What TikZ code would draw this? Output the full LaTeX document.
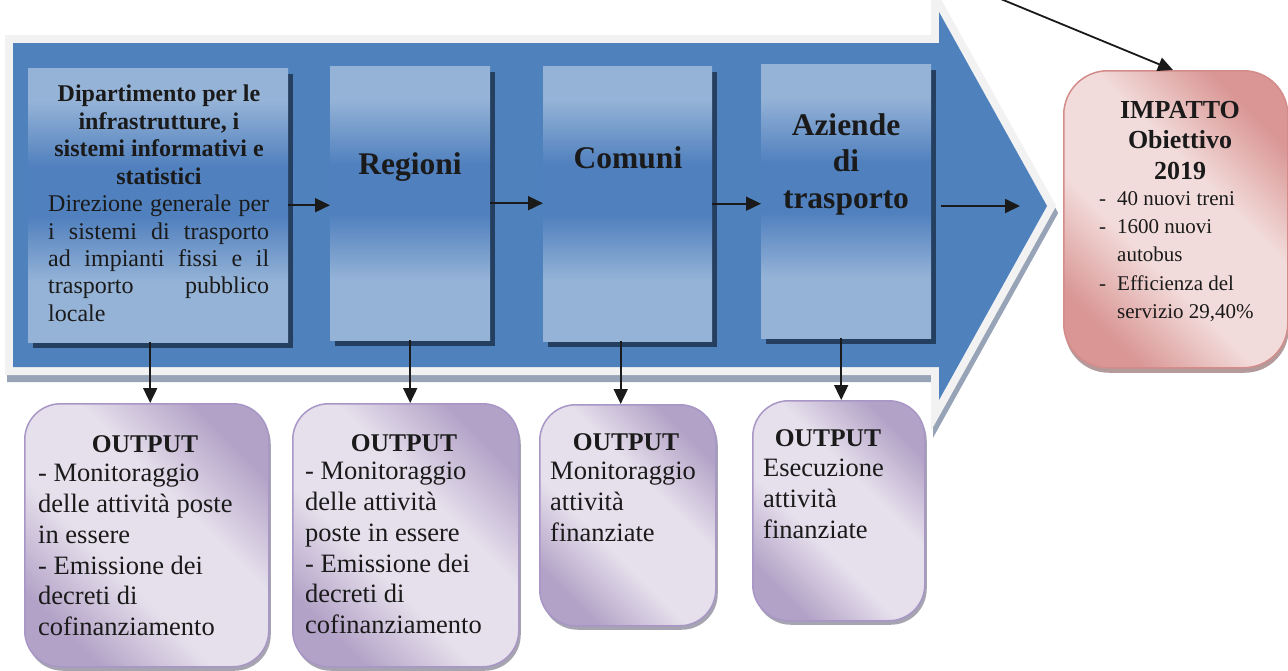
\documentclass[tikz,border=0pt]{standalone}
\usepackage{fontspec}
\setmainfont{Liberation Serif}
\usetikzlibrary{arrows.meta,calc,shadows}

\definecolor{flowblue}{HTML}{4F81BD}
\definecolor{framegrey}{HTML}{F2F2F2}
\definecolor{frameshade}{HTML}{97A3B6}
\definecolor{stepL}{HTML}{95B3D7}
\definecolor{stepM}{HTML}{5080BE}
\definecolor{stepshade}{HTML}{243F60}
\definecolor{lilacD}{HTML}{B3A2C7}
\definecolor{lilacL}{HTML}{E6E0EC}
\definecolor{lilacrim}{HTML}{A897C6}
\definecolor{lilacshade}{HTML}{A6A4B0}
\definecolor{roseD}{HTML}{D99694}
\definecolor{roseL}{HTML}{F2DCDB}
\definecolor{roserim}{HTML}{D38C8A}
\definecolor{roseshade}{HTML}{B39B9B}
\definecolor{ink}{HTML}{1A1A1A}

% light - dark band - light, top to bottom
\pgfdeclareverticalshading{stepband}{100bp}{color(0bp)=(stepL); color(25bp)=(stepL); color(36bp)=(stepL); color(48bp)=(stepM); color(57bp)=(stepM); color(69bp)=(stepL); color(75bp)=(stepL); color(100bp)=(stepL)}
% dark corners, light diagonal band
\pgfdeclareverticalshading{lilacband}{100bp}{color(0bp)=(lilacD); color(25bp)=(lilacD); color(41bp)=(lilacL); color(59bp)=(lilacL); color(75bp)=(lilacD); color(100bp)=(lilacD)}
\pgfdeclareverticalshading{roseband}{100bp}{color(0bp)=(roseD); color(25bp)=(roseD); color(41bp)=(roseL); color(59bp)=(roseL); color(75bp)=(roseD); color(100bp)=(roseD)}

% one justified line of fixed width
\newcommand{\jline}[1]{\hbox to 221pt{#1}}

\tikzset{
  stepbox/.style={shading=stepband, inner sep=0pt, anchor=north west,
    drop shadow={shadow xshift=5pt, shadow yshift=-6pt, opacity=1, fill=stepshade}},
  outbox/.style={rounded corners=36pt, draw=lilacrim, line width=1.5pt,
    shading=lilacband, shading angle=-45, inner sep=0pt, anchor=north west,
    drop shadow={shadow xshift=2pt, shadow yshift=-4pt, opacity=1, fill=lilacshade}},
  impbox/.style={rounded corners=44pt, draw=roserim, line width=1.5pt,
    shading=roseband, shading angle=-45, inner sep=0pt, anchor=north west,
    drop shadow={shadow xshift=1pt, shadow yshift=-5pt, opacity=1, fill=roseshade}},
  lbl/.style={inner sep=0pt, text=ink},
  stephead/.style={lbl, font=\fontsize{31.5}{36.5}\selectfont\bfseries},
  outhead/.style={lbl, anchor=base, font=\fontsize{25.5}{30}\selectfont\bfseries},
  outbody/.style={lbl, anchor=north west, align=left, font=\fontsize{26.5}{30.8}\selectfont},
  conn/.style={line width=1.8pt, draw=ink, -{Triangle[length=15pt,width=14pt]}},
}

\begin{document}
\begin{tikzpicture}[x=1pt,y=-1pt]
\useasboundingbox (0,0) rectangle (1288,670);
\fill[white] (0,0) rectangle (1288,670);
\clip (0,0) rectangle (1288,670);

% big process arrow: shadow, light frame, blue body
\path[fill=frameshade, draw=frameshade, line width=16pt, line join=miter, shift={(2,7)}]
  (13,43) -- (939,43) -- (939,12) -- (1047,206) -- (939,400) -- (939,367) -- (13,367) -- cycle;
\path[fill=framegrey, draw=framegrey, line width=16pt, line join=miter]
  (13,43) -- (939,43) -- (939,12) -- (1047,206) -- (939,400) -- (939,367) -- (13,367) -- cycle;
\fill[flowblue]
  (13,43) -- (939,43) -- (939,12) -- (1047,206) -- (939,400) -- (939,367) -- (13,367) -- cycle;

% the four actors
\node[stepbox, minimum width=260pt, minimum height=274pt] (dip) at (28,68) {};
\node[stepbox, minimum width=160pt, minimum height=274pt] (reg) at (330,66) {};
\node[stepbox, minimum width=169pt, minimum height=275pt] (com) at (543,66) {};
\node[stepbox, minimum width=170pt, minimum height=274pt] (az) at (761,64) {};

\node[lbl, anchor=north, align=center, font=\fontsize{24}{27.5}\selectfont\bfseries] (diphead) at (159,85)
  {Dipartimento per le\\infrastrutture, i\\sistemi informativi e\\statistici};
\node[lbl, anchor=north west, align=left, font=\fontsize{24}{27.3}\selectfont] (dipbody) at (48,195)
  {\jline{Direzione\hfill generale\hfill per}\\
   \jline{i\hfill sistemi\hfill di\hfill trasporto}\\
   \jline{ad\hfill impianti\hfill fissi\hfill e\hfill il}\\
   \jline{trasporto\hfill pubblico}\\
   locale};
\node[stephead, anchor=base] (regname) at (410,174) {Regioni};
\node[stephead, anchor=base] (comname) at (628,168) {Comuni};
\node[stephead, anchor=north, align=center] (azname) at (846,113) {Aziende\\di\\trasporto};

% outputs
\node[outbox, minimum width=244pt, minimum height=263pt] (o1) at (24,403) {};
\node[outbox, minimum width=226pt, minimum height=263pt] (o2) at (292,403) {};
\node[outbox, minimum width=176pt, minimum height=221pt] (o3) at (539,404) {};
\node[outbox, minimum width=172pt, minimum height=220pt] (o4) at (752,400) {};

\node[outhead] (o1head) at (145,452) {OUTPUT};
\node[outbody] (o1body) at (38,464)
  {- Monitoraggio\\delle attività poste\\in essere\\- Emissione dei\\decreti di\\cofinanziamento};
\node[outhead] (o2head) at (404,451) {OUTPUT};
\node[outbody] (o2body) at (305,462)
  {- Monitoraggio\\delle attività\\poste in essere\\- Emissione dei\\decreti di\\cofinanziamento};
\node[outhead] (o3head) at (626,450) {OUTPUT};
\node[outbody] (o3body) at (550,462) {Monitoraggio\\attività\\finanziate};
\node[outhead] (o4head) at (828,446) {OUTPUT};
\node[outbody] (o4body) at (763,459) {Esecuzione\\attività\\finanziate};

% impact
\node[impbox, minimum width=224pt, minimum height=297pt] (imp) at (1063,70) {};
\node[lbl, anchor=north, align=center, font=\fontsize{26}{30.5}\selectfont\bfseries] (imphead) at (1180,101)
  {IMPATTO\\Obiettivo\\2019};
\node[lbl, anchor=north west, align=left, font=\fontsize{21}{28.3}\selectfont] (implist) at (1099,191)
  {\makebox[18pt][l]{-}40 nuovi treni\\
   \makebox[18pt][l]{-}1600 nuovi\\
   \hspace*{18pt}autobus\\
   \makebox[18pt][l]{-}Efficienza del\\
   \hspace*{18pt}servizio 29,40\%};

% connectors
\draw[conn] (dip.east) -- (dip.east -| reg.west);
\draw[conn] (reg.east) -- (reg.east -| com.west);
\draw[conn] (com.east) -- (com.east -| az.west);
\coordinate (flowtip) at (1020,206);
\draw[conn] ($(az.east |- flowtip)+(10,0)$) -- (flowtip);

\coordinate (d1) at ($(dip.south)+(-8,0)$);
\coordinate (d3) at ($(com.south)+(-7,0)$);
\coordinate (d4) at ($(az.south)+(-5,0)$);
\draw[conn] (d1) -- (d1 |- o1.north);
\draw[conn] (reg.south) -- (reg.south |- o2.north);
\draw[conn] (d3) -- (d3 |- o3.north);
\draw[conn] (d4) -- (d4 |- o4.north);

\coordinate (src) at (996,-3);
\draw[conn] (src) -- ($(imp.north west)+(110,0)$);
\end{tikzpicture}
\end{document}
